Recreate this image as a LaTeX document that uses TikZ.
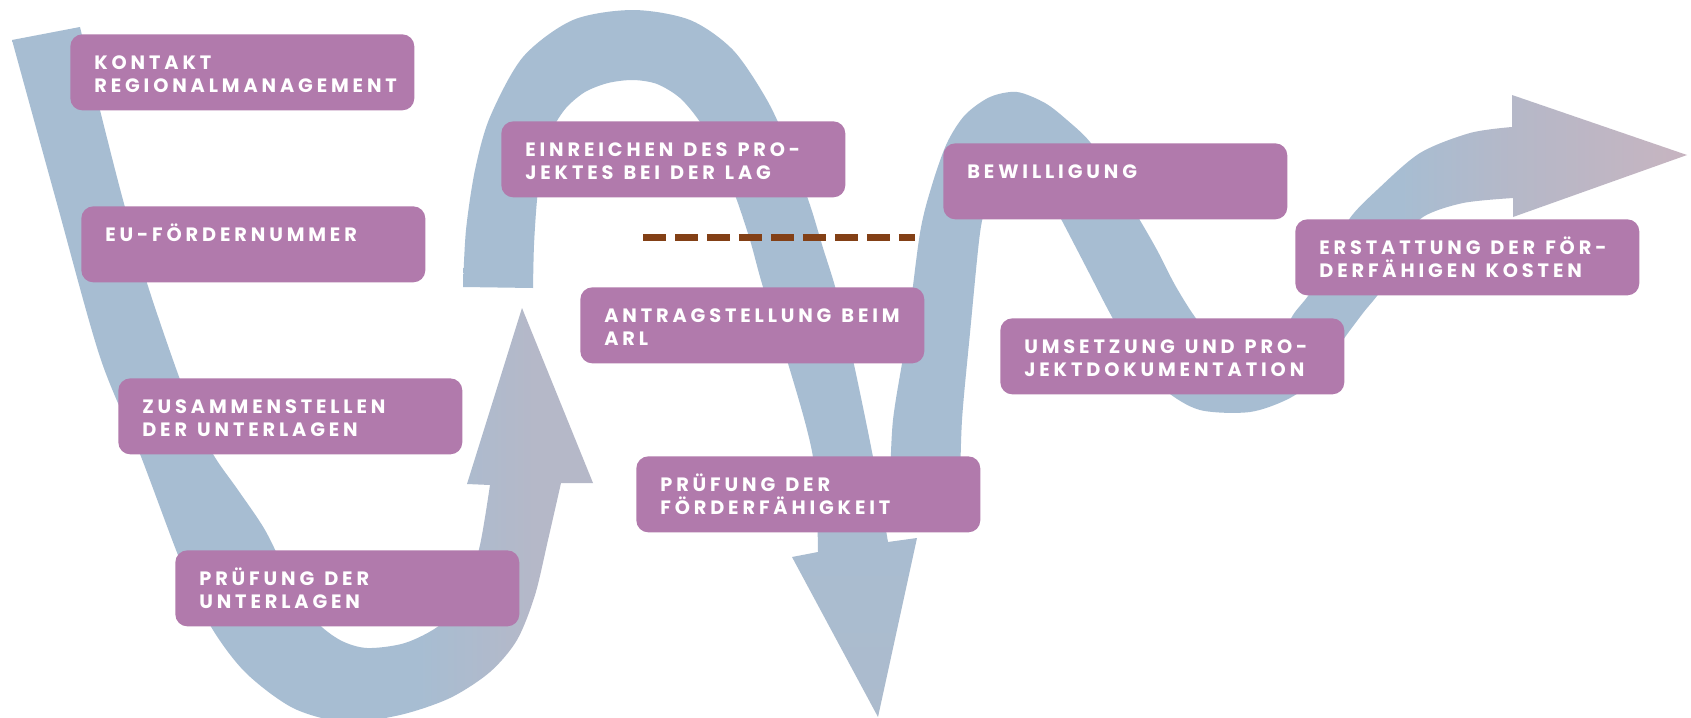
\documentclass[tikz,border=0pt]{standalone}
\usepackage{fontspec}
\usetikzlibrary{positioning}
\newfontfamily\stepfont[LetterSpace=20]{Poppins}
\definecolor{bandblue}{RGB}{167,189,210}
\definecolor{bandgrey}{RGB}{181,184,200}
\definecolor{bandBgrey}{RGB}{172,187,205}
\definecolor{bandmauve}{RGB}{199,180,192}
\definecolor{boxpurple}{RGB}{177,122,172}
\definecolor{gatebrown}{RGB}{131,64,22}
\pgfdeclarehorizontalshading{bandAfade}{100bp}{color(0bp)=(bandblue); color(60bp)=(bandblue); color(70bp)=(bandgrey); color(100bp)=(bandgrey)}
\pgfdeclareverticalshading{bandBfade}{100bp}{color(0bp)=(bandBgrey); color(25bp)=(bandBgrey); color(45bp)=(bandblue); color(100bp)=(bandblue)}
\pgfdeclarehorizontalshading{bandCfade}{100bp}{color(0bp)=(bandblue); color(57bp)=(bandblue); color(64bp)=(bandgrey); color(75bp)=(bandmauve); color(100bp)=(bandmauve)}
\begin{document}
\begin{tikzpicture}[x=0.02cm, y=-0.02cm, node distance=0.44cm and 0.48cm,
    stepbox/.style={fill=boxpurple, rounded corners=0.24cm, anchor=north west, minimum width=6.88cm, minimum height=1.52cm, inner sep=0pt},
    steptext/.style={inner sep=0pt, text width=6.6cm, text height=0.27cm, text depth=0.2cm, align=left, text=white, font=\stepfont\bfseries\fontsize{11}{13.04}\selectfont, execute at begin node=\spaceskip 0.2cm\relax},
    gate/.style={draw=gatebrown, line width=0.14cm, dash pattern=on 0.46cm off 0.18cm}]
    \useasboundingbox[fill=white] (0,0) rectangle (1691,717);
    \shade[shading=bandAfade] plot[smooth] coordinates {(12,40) (56,200) (100,357) (140,454) (180,560) (210,625) (245,672) (293,708) (345,722) (400,715) (450,698) (490,672) (517,640) (535,595) (548,540) (561,483)}
        -- (593,483) -- (522,308) -- (467,484)
        -- plot[smooth] coordinates {(490,485) (480,545) (465,595) (440,625) (405,643) (367,648) (340,640) (315,620) (290,580) (265,530) (238,490) (213,454) (190,405) (173,360) (147,283) (123,200) (100,110) (80,27)} -- cycle;
    \shade[shading=bandBfade] plot[smooth] coordinates {(463,287) (466,230) (475,170) (490,117) (523,57) (573,20) (633,10) (690,20) (733,50) (767,100) (790,150) (810,205) (823,248) (836,290) (853,360) (873,457) (888,542)}
        -- (917,538) -- (878,717) -- (792,557)
        -- plot[smooth] coordinates {(818,552) (813,457) (787,360) (763,287) (750,240) (735,195) (718,155) (700,122) (680,98) (657,84) (633,80) (608,83) (585,92) (566,108) (552,130) (542,160) (537,200) (534,245) (533,288)} -- cycle;
    \shade[shading=bandCfade] plot[smooth] coordinates {(890,490) (893,420) (907,333) (920,233) (932,185) (947,143) (965,115) (990,97) (1017,92) (1045,103) (1067,120) (1090,142) (1115,180) (1138,217) (1157,250) (1175,285) (1195,317) (1220,347) (1250,360) (1275,348) (1293,315) (1310,293) (1330,255) (1350,218) (1377,190) (1420,153) (1470,133) (1512,127)}
        -- (1512,95) -- (1687,155) -- (1513,217)
        -- plot[smooth] coordinates {(1513,198) (1463,203) (1423,217) (1400,245) (1383,287) (1363,313) (1343,340) (1320,375) (1290,398) (1250,412) (1200,410) (1165,390) (1135,355) (1112,317) (1085,265) (1060,217) (1040,180) (1020,160) (1000,168) (988,200) (980,233) (970,333) (962,420) (960,490)} -- cycle;
    \coordinate (gateL) at (643,237);
    \coordinate (gateR) at (915,237);
    \draw[gate] (gateL) -- (gateR);
    \node[stepbox] (kontakt) at (70,34) {};
    \node[steptext, below right=of kontakt.north west] (kontakttext) {KONTAKT\\REGIONALMANAGEMENT};
    \node[stepbox] (eunummer) at (81,206) {};
    \node[steptext, below right=of eunummer.north west] (eunummertext) {EU-FÖRDERNUMMER};
    \node[stepbox] (zusammen) at (118,378) {};
    \node[steptext, below right=of zusammen.north west] (zusammentext) {ZUSAMMENSTELLEN\\DER UNTERLAGEN};
    \node[stepbox] (pruefung) at (175,550) {};
    \node[steptext, below right=of pruefung.north west] (pruefungtext) {PRÜFUNG DER\\UNTERLAGEN};
    \node[stepbox] (einreichen) at (501,121) {};
    \node[steptext, below right=of einreichen.north west] (einreichentext) {EINREICHEN DES PRO-\\JEKTES BEI DER LAG};
    \node[stepbox] (antrag) at (580,287) {};
    \node[steptext, below right=of antrag.north west] (antragtext) {ANTRAGSTELLUNG BEIM\\ARL};
    \node[stepbox] (foerder) at (636,456) {};
    \node[steptext, below right=of foerder.north west] (foerdertext) {PRÜFUNG DER\\FÖRDERFÄHIGKEIT};
    \node[stepbox] (bewilligung) at (943,143) {};
    \node[steptext, below right=of bewilligung.north west] (bewilligungtext) {BEWILLIGUNG};
    \node[stepbox] (umsetzung) at (1000,318) {};
    \node[steptext, below right=of umsetzung.north west] (umsetzungtext) {UMSETZUNG UND PRO-\\JEKTDOKUMENTATION};
    \node[stepbox] (erstattung) at (1295,219) {};
    \node[steptext, below right=of erstattung.north west] (erstattungtext) {ERSTATTUNG DER FÖR-\\DERFÄHIGEN KOSTEN};
\end{tikzpicture}
\end{document}
